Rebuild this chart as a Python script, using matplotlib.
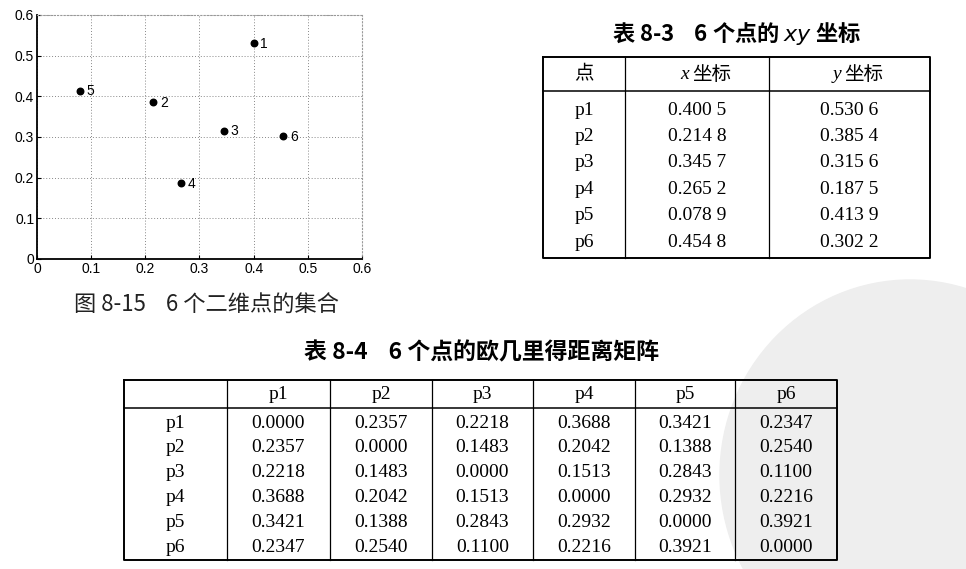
import numpy as np
import matplotlib.pyplot as plt
from matplotlib.patches import Ellipse

# 数据
point_ids = ['1', '2', '3', '4', '5', '6']
x_vals = [0.4005, 0.2148, 0.3457, 0.2652, 0.0789, 0.4548]
y_vals = [0.5306, 0.3854, 0.3156, 0.1875, 0.4139, 0.3022]

row_names = ['p1', 'p2', 'p3', 'p4', 'p5', 'p6']
dist = [
    [0.0000, 0.2357, 0.2218, 0.3688, 0.3421, 0.2347],
    [0.2357, 0.0000, 0.1483, 0.2042, 0.1388, 0.2540],
    [0.2218, 0.1483, 0.0000, 0.1513, 0.2843, 0.1100],
    [0.3688, 0.2042, 0.1513, 0.0000, 0.2932, 0.2216],
    [0.3421, 0.1388, 0.2843, 0.2932, 0.0000, 0.3921],
    [0.2347, 0.2540, 0.1100, 0.2216, 0.3921, 0.0000],
]

CJK = ['Noto Sans CJK SC', 'DejaVu Sans']
SERIF = ['Liberation Serif', 'Noto Sans CJK SC']

W, H = 966, 569
fig = plt.figure(figsize=(W / 100, H / 100), dpi=100)

# 背景水印
bg = fig.add_axes([0, 0, 1, 1])
bg.set_xlim(0, W)
bg.set_ylim(H, 0)
bg.axis('off')
bg.add_patch(Ellipse((910, 475), 380, 390, color='#eeeeee', zorder=0))

# 散点图
ax = fig.add_axes([37 / W, (H - 259) / H, 325 / W, 244 / H])
ax.scatter(x_vals, y_vals, s=22, color='black', zorder=3)
for px, py, lab in zip(x_vals, y_vals, point_ids):
    ax.text(px + 0.012, py - 0.002, lab, fontsize=10, family='Liberation Sans',
            va='center', ha='left')
ax.set_xlim(0, 0.6)
ax.set_ylim(0, 0.6)
ticks = np.arange(0, 0.61, 0.1)
ax.set_xticks(ticks)
ax.set_yticks(ticks)
ax.set_xticklabels(['0'] + [f'{t:.1f}' for t in ticks[1:]])
ax.set_yticklabels(['0'] + [f'{t:.1f}' for t in ticks[1:]])
ax.tick_params(direction='in', length=3, labelsize=10, pad=2)
for lab in ax.get_xticklabels() + ax.get_yticklabels():
    lab.set_family('Liberation Sans')
ax.grid(True, linestyle=(0, (1, 2)), color='#888888', linewidth=0.7)
ax.spines['left'].set_linewidth(1.3)
ax.spines['bottom'].set_linewidth(1.3)
for s in ['top', 'right']:
    ax.spines[s].set_color('#999999')
    ax.spines[s].set_linestyle((0, (1, 2)))
ax.set_facecolor('none')

bg.text(206, 305, '图 8-15    6 个二维点的集合', family=CJK, fontsize=16,
        ha='center', va='center', color='#222222')


def draw_table(edges, top, head_bot, bottom, header, rows, row_y0, step, size):
    bg.plot([edges[0], edges[-1], edges[-1], edges[0], edges[0]],
            [top, top, bottom, bottom, top], color='black', lw=1.4)
    bg.plot([edges[0], edges[-1]], [head_bot, head_bot], color='black', lw=1.1)
    for e in edges[1:-1]:
        bg.plot([e, e], [top, bottom], color='black', lw=0.9)
    centers = [(a + b) / 2 for a, b in zip(edges[:-1], edges[1:])]
    hy = (top + head_bot) / 2
    for c, h in zip(centers, header):
        if isinstance(h, tuple):
            # 斜体变量 + 中文
            bg.text(c - 8, hy, h[0], family='Liberation Serif', style='italic',
                    fontsize=size, ha='right', va='center')
            bg.text(c - 5, hy, h[1], family=CJK, fontsize=size,
                    ha='left', va='center')
        else:
            bg.text(c, hy, h, family=SERIF, fontsize=size,
                    ha='center', va='center')
    for i, row in enumerate(rows):
        for c, v in zip(centers, row):
            bg.text(c, row_y0 + i * step, v, family=SERIF, fontsize=size,
                    ha='center', va='center')


def grouped(v):
    s = f'{v:.4f}'
    return s[:-1] + ' ' + s[-1]


# 表 8-3
bg.text(737, 33, '表 8-3    6 个点的 $\\it{xy}$ 坐标', family=CJK, fontsize=16,
        fontweight='bold', ha='center', va='center')
rows83 = [[n, grouped(a), grouped(b)] for n, a, b in zip(row_names, x_vals, y_vals)]
draw_table([543, 625, 769, 930], 57, 91, 258,
           ['点', ('x', '坐标'), ('y', '坐标')], rows83, 110, 26.4, 14)

# 表 8-4
bg.text(481, 353, '表 8-4    6 个点的欧几里得距离矩阵', family=CJK, fontsize=16.5,
        fontweight='bold', ha='center', va='center')
rows84 = [[n] + [f'{v:.4f}' for v in r] for n, r in zip(row_names, dist)]
draw_table([124, 227, 330, 432, 533, 635, 735, 837], 380, 408, 560,
           [''] + row_names, rows84, 423, 24.8, 14)

fig.savefig('out.png', dpi=100)
